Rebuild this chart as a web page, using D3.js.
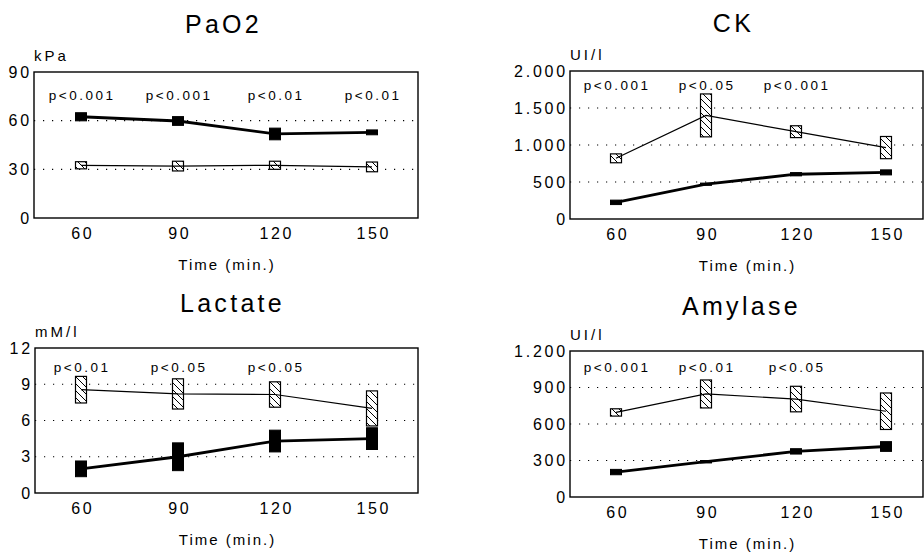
<!DOCTYPE html>
<html>
<head>
<meta charset="utf-8">
<script src="https://cdn.jsdelivr.net/npm/d3@7"></script>
<style>
  html, body { margin: 0; padding: 0; background: #fff; }
  svg { display: block; font-family: "Liberation Sans", Arial, sans-serif; }
</style>
</head>
<body>
<svg id="chart" width="924" height="554"></svg>
<script>
// ---------- DATA ----------
const times = [60, 90, 120, 150];

const pao2Solid = [62.4, 59.8, 51.8, 52.8];
const pao2SolidSd = [2.5, 2.7, 3.6, 1.5];
const pao2Hatched = [32.5, 32, 32.5, 31.5];
const pao2HatchedSd = [2.2, 3, 2.5, 3];
const pao2P = ["p<0.001", "p<0.001", "p<0.01", "p<0.01"];
const pao2Ticks = [0, 30, 60, 90];

const ckSolid = [225, 470, 605, 630];
const ckSolidSd = [30, 15, 22, 34];
const ckHatched = [820, 1400, 1180, 965];
const ckHatchedSd = [60, 290, 80, 150];
const ckP = ["p<0.001", "p<0.05", "p<0.001", ""];
const ckTicks = [0, 500, 1000, 1500, 2000];

const lactSolid = [2.0, 3.0, 4.3, 4.5];
const lactSolidSd = [0.65, 1.15, 0.9, 0.9];
const lactHatched = [8.55, 8.2, 8.15, 7.0];
const lactHatchedSd = [1.1, 1.25, 1.05, 1.45];
const lactP = ["p<0.01", "p<0.05", "p<0.05", ""];
const lactTicks = [0, 3, 6, 9, 12];

const amySolid = [205, 290, 375, 415];
const amySolidSd = [22, 10, 22, 40];
const amyHatched = [695, 847, 805, 705];
const amyHatchedSd = [30, 115, 105, 150];
const amyP = ["p<0.001", "p<0.01", "p<0.05", ""];
const amyTicks = [0, 300, 600, 900, 1200];

const titles = ["PaO2", "CK", "Lactate", "Amylase"];
const units = ["kPa", "UI/l", "mM/l", "UI/l"];
const xTitle = "Time (min.)";

// ---------- LAYOUT ----------
const layouts = [
  {left: 34, right: 418, top: 72, bottom: 218, x60: 81, x150: 372, titleX: 222, titleY: 33, pY: 100},
  {left: 570, right: 923, top: 71, bottom: 219, x60: 616, x150: 886, titleX: 732, titleY: 32, pY: 90},
  {left: 35, right: 418, top: 348, bottom: 493, x60: 81, x150: 372, titleX: 231, titleY: 312, pY: 372},
  {left: 570, right: 923, top: 351, bottom: 497, x60: 616, x150: 886, titleX: 740, titleY: 315, pY: 372}
];

const panels = [
  {solid: pao2Solid, solidSd: pao2SolidSd, hatched: pao2Hatched, hatchedSd: pao2HatchedSd, p: pao2P, ticks: pao2Ticks, sep: false},
  {solid: ckSolid, solidSd: ckSolidSd, hatched: ckHatched, hatchedSd: ckHatchedSd, p: ckP, ticks: ckTicks, sep: true},
  {solid: lactSolid, solidSd: lactSolidSd, hatched: lactHatched, hatchedSd: lactHatchedSd, p: lactP, ticks: lactTicks, sep: false},
  {solid: amySolid, solidSd: amySolidSd, hatched: amyHatched, hatchedSd: amyHatchedSd, p: amyP, ticks: amyTicks, sep: true}
];

const euro = d3.formatLocale({decimal: ",", thousands: ".", grouping: [3], currency: ["", ""]});
const sepFmt = euro.format(",");
const plainFmt = d3.format("d");
const FONT = "Liberation Sans, Arial, sans-serif";

const svg = d3.select("#chart");
const defs = svg.append("defs");
const pat = defs.append("pattern").attr("id", "hatch")
  .attr("patternUnits", "userSpaceOnUse").attr("width", 7).attr("height", 7);
pat.append("rect").attr("width", 7).attr("height", 7).attr("fill", "#fff");
pat.append("path").attr("d", "M-1,-1 L8,8 M-1,6 L1,8 M6,-1 L8,1")
  .attr("stroke", "#000").attr("stroke-width", 1);

const boxW = 11;

panels.forEach((pd, i) => {
  const L = layouts[i];
  const g = svg.append("g");
  const x = d3.scaleLinear().domain([60, 150]).range([L.x60, L.x150]);
  const yMax = pd.ticks[pd.ticks.length - 1];
  const y = d3.scaleLinear().domain([0, yMax]).range([L.bottom, L.top]);

  // title
  g.append("text").attr("x", L.titleX + 1.5).attr("y", L.titleY)
    .attr("text-anchor", "middle").attr("font-size", 25).attr("letter-spacing", 3.3)
    .text(titles[i]);
  // unit
  g.append("text").attr("x", L.left).attr("y", L.top - 11)
    .attr("font-size", 15).attr("letter-spacing", 3).text(units[i]);

  // grid lines (dotted) at intermediate ticks
  g.selectAll(".grid").data(pd.ticks.filter(t => t > 0 && t < yMax)).join("line")
    .attr("x1", L.left).attr("x2", L.right)
    .attr("y1", d => y(d)).attr("y2", d => y(d))
    .attr("stroke", "#000").attr("stroke-width", 1.2)
    .attr("stroke-dasharray", "1.2,7.8");

  // y axis (labels only)
  const yAxis = d3.axisLeft(y).tickValues(pd.ticks).tickSize(0).tickPadding(2)
    .tickFormat(pd.sep ? sepFmt : plainFmt);
  const ya = g.append("g").attr("transform", `translate(${L.left},0)`).call(yAxis);
  ya.select(".domain").remove();
  ya.selectAll("text").attr("font-size", 16).attr("letter-spacing", 2.8)
    .attr("font-family", FONT).attr("fill", "#000");

  // x axis (labels only)
  const xAxis = d3.axisBottom(x).tickValues(times).tickSize(0).tickPadding(10)
    .tickFormat(plainFmt);
  const xa = g.append("g").attr("transform", `translate(1.3,${L.bottom})`).call(xAxis);
  xa.select(".domain").remove();
  xa.selectAll("text").attr("font-size", 16).attr("letter-spacing", 2.6)
    .attr("font-family", FONT).attr("fill", "#000");

  // x title
  g.append("text").attr("x", (L.left + L.right) / 2 + 1).attr("y", L.bottom + 52)
    .attr("text-anchor", "middle").attr("font-size", 15).attr("letter-spacing", 2)
    .text(xTitle);

  // frame
  g.append("rect").attr("x", L.left).attr("y", L.top)
    .attr("width", L.right - L.left).attr("height", L.bottom - L.top)
    .attr("fill", "none").attr("stroke", "#000").attr("stroke-width", 1.4);

  // p labels
  g.selectAll(".pl").data(times.map((t, k) => ({t, s: pd.p[k]}))).join("text")
    .attr("x", d => x(d.t) + 1.2).attr("y", L.pY)
    .attr("text-anchor", "middle").attr("font-size", 13.5).attr("letter-spacing", 2.5)
    .text(d => d.s);

  const line = d3.line().x(d => x(d.t)).y(d => y(d.v));

  // hatched series
  const hData = times.map((t, k) => ({t, v: pd.hatched[k], sd: pd.hatchedSd[k]}));
  g.selectAll(".hb").data(hData).join("rect")
    .attr("x", d => x(d.t) - boxW / 2).attr("width", boxW)
    .attr("y", d => y(d.v + d.sd)).attr("height", d => y(d.v - d.sd) - y(d.v + d.sd))
    .attr("fill", "url(#hatch)").attr("stroke", "#000").attr("stroke-width", 1.2);
  g.append("path").datum(hData).attr("d", line)
    .attr("fill", "none").attr("stroke", "#000").attr("stroke-width", 1.2);

  // solid series
  const sData = times.map((t, k) => ({t, v: pd.solid[k], sd: pd.solidSd[k]}));
  g.append("path").datum(sData).attr("d", line)
    .attr("fill", "none").attr("stroke", "#000").attr("stroke-width", 2.8);
  g.selectAll(".sb").data(sData).join("rect")
    .attr("x", d => x(d.t) - boxW / 2).attr("width", boxW)
    .attr("y", d => y(d.v + d.sd)).attr("height", d => y(d.v - d.sd) - y(d.v + d.sd))
    .attr("fill", "#000").attr("stroke", "#000").attr("stroke-width", 1);
});
</script>
</body>
</html>
